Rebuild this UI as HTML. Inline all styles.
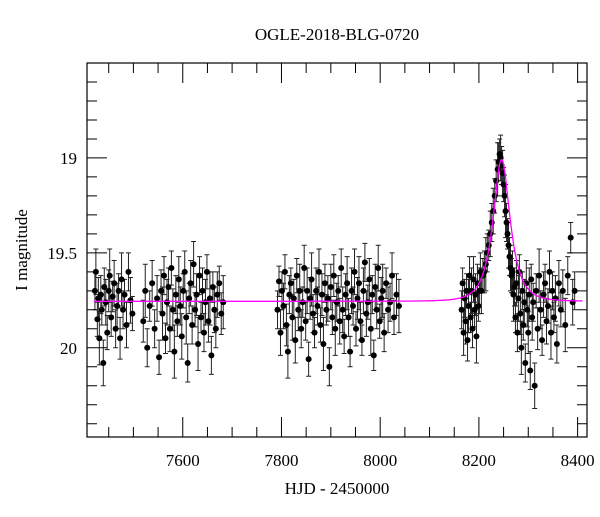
<!DOCTYPE html>
<html><head><meta charset="utf-8"><style>
body{margin:0;background:#fff;}
svg text{font-family:"Liberation Serif",serif;fill:#000;}
</style></head><body>
<svg id="chart" width="600" height="512" viewBox="0 0 600 512" xmlns="http://www.w3.org/2000/svg">
<text x="337" y="40" font-size="17" text-anchor="middle">OGLE-2018-BLG-0720</text>
<text x="337" y="494" font-size="17" text-anchor="middle">HJD - 2450000</text>
<text x="0" y="0" font-size="17" text-anchor="middle" transform="translate(27,250) rotate(-90)">I magnitude</text>
<g id="errs"></g><g id="pts"></g><g id="model"></g><g id="axes"></g>
</svg>
<script>
const xTicks=[7600,7800,8000,8200,8400];
const yTicks=[19,19.5,20];
const yTickLabels=["19","19.5","20"];
const t1=[7422,7424,7427,7429,7431,7434,7436,7439,7441,7444,7447,7450,7452,7455,7458,7461,7464,7467,7470,7473,7476,7479,7482,7486,7490,7494,7498,7520,7524,7528,7533,7538,7543,7548,7552,7556,7559,7562,7565,7568,7571,7574,7577,7580,7583,7586,7589,7592,7595,7598,7601,7604,7607,7610,7613,7616,7619,7622,7625,7628,7631,7634,7637,7640,7643,7646,7649,7652,7655,7658,7661,7664,7667,7670,7674,7678,7682];
const m1=[19.7,19.6,19.85,19.74,19.95,19.72,19.8,20.08,19.68,19.76,19.92,19.7,19.62,19.84,19.73,19.66,19.9,19.78,19.7,19.95,19.64,19.8,19.72,19.88,19.6,19.75,19.82,19.86,19.7,20.0,19.78,19.66,19.9,19.74,20.05,19.7,19.82,19.62,19.95,19.76,19.68,19.9,19.58,19.8,20.02,19.72,19.86,19.64,19.78,19.94,19.7,19.6,19.84,20.08,19.74,19.66,19.88,19.56,19.8,19.72,19.98,19.62,19.84,19.7,19.92,19.76,19.6,19.86,19.74,20.04,19.68,19.8,19.9,19.72,19.66,19.82,19.76];
const t2=[7792,7795,7798,7801,7804,7807,7810,7813,7816,7819,7822,7825,7828,7831,7834,7837,7840,7843,7846,7849,7852,7855,7858,7861,7864,7867,7870,7873,7876,7879,7882,7885,7888,7891,7894,7897,7900,7903,7906,7909,7912,7915,7918,7921,7924,7927,7930,7933,7936,7939,7942,7945,7948,7951,7954,7957,7960,7963,7966,7969,7972,7975,7978,7981,7984,7987,7990,7993,7996,7999,8002,8005,8008,8012,8016,8020,8024,8028,8033,8038];
const m2=[19.8,19.65,19.92,19.7,19.78,19.6,19.88,20.02,19.72,19.66,19.84,19.74,19.96,19.62,19.8,19.7,19.9,19.76,19.58,19.86,19.7,20.06,19.74,19.64,19.82,19.92,19.7,19.78,19.6,19.88,19.72,19.98,19.66,19.8,19.74,20.1,19.68,19.84,19.62,19.9,19.76,19.7,19.86,19.58,19.8,19.94,19.72,19.66,19.84,20.02,19.7,19.78,19.6,19.9,19.74,19.66,19.86,19.96,19.7,19.55,19.82,19.76,19.64,19.9,19.72,20.04,19.68,19.8,19.58,19.86,19.74,19.7,19.92,19.66,19.8,19.76,19.62,19.84,19.72,19.78];
const t3=[8165,8167,8169,8171,8173,8175,8177,8179,8181,8183,8185,8187,8189,8191,8193,8195,8197,8199,8201,8203,8205,8208,8211,8214,8217,8220,8223,8226,8229,8232,8235,8238,8240,8242,8244,8246,8248,8250,8252,8254,8256,8258,8260,8262,8264,8266,8268,8270,8272,8274,8276,8278,8280,8282,8284,8286,8288,8290,8292,8294,8296,8298,8300,8302,8304,8306,8308,8310,8313,8316,8319,8322,8325,8328,8331,8334,8337,8340,8343,8346,8349,8352,8355,8358,8362,8366,8370,8375,8380,8386,8390,8394];
const m3=[19.8,19.66,19.92,19.74,19.86,19.7,19.96,19.78,19.62,19.84,19.7,19.9,19.64,19.8,19.72,19.94,19.66,19.78,19.7,19.6,19.7,19.62,19.6,19.56,19.5,19.46,19.4,19.34,19.28,19.2,19.12,19.06,19.02,18.98,19.0,19.04,19.08,19.14,19.2,19.28,19.34,19.4,19.46,19.52,19.58,19.62,19.6,19.72,19.68,19.84,19.66,19.92,19.74,19.6,19.82,20.0,19.7,19.88,19.76,20.08,19.66,19.8,19.92,19.72,20.12,19.64,19.84,19.76,20.2,19.7,19.9,19.62,19.8,19.96,19.72,19.66,19.86,19.78,19.6,19.92,19.7,19.84,19.74,19.98,19.66,19.8,19.7,19.88,19.62,19.42,19.76,19.7];
const errVals=[0.1,0.12,0.09,0.11,0.14,0.1,0.08,0.12];
const model={t0:8246,u0:0.56,tE:28,base:19.755};
const X0=7406,X1=8419,Y0=18.5,Y1=20.47,L=87,R=587,T=63,B=437;
const xs=v=>L+(v-X0)/(X1-X0)*(R-L);
const ys=v=>T+(v-Y0)/(Y1-Y0)*(B-T);
const NS="http://www.w3.org/2000/svg";
function mk(tag,attrs,parent){const e=document.createElementNS(NS,tag);for(const k in attrs)e.setAttribute(k,attrs[k]);parent.appendChild(e);return e;}
const gE=document.getElementById('errs'),gP=document.getElementById('pts'),gM=document.getElementById('model'),gA=document.getElementById('axes');
let idx=0;
[[t1,m1],[t2,m2],[t3,m3]].forEach(([ts,ms],s)=>{
 ts.forEach((t,i)=>{
  const m=ms[i],e=errVals[idx++%errVals.length];
  const x=xs(t);
  const eb=mk('path',{d:`M${x},${ys(m-e)}V${ys(m+e)}M${x-2.5},${ys(m-e)}h5M${x-2.5},${ys(m+e)}h5`,stroke:'#222','stroke-width':1,fill:'none'},gE);
  
  
  const c=mk('circle',{cx:x,cy:ys(m),r:3,fill:'#000'},gP);
  
  
 });
});
let d='';
for(let t=7420;t<=8410;t+=1){
 const tau=(t-model.t0)/model.tE,u=Math.sqrt(model.u0*model.u0+tau*tau);
 const A=(u*u+2)/(u*Math.sqrt(u*u+4));
 const m=model.base-2.5*Math.log10(A);
 d+=(d?'L':'M')+xs(t).toFixed(1)+','+ys(m).toFixed(1);
}
const ml=mk('path',{d:d,stroke:'#ff00ff','stroke-width':1.3,fill:'none'},gM);


const fr=mk('rect',{x:L,y:T,width:R-L,height:B-T,fill:'none',stroke:'#000','stroke-width':1.2},gA);


let td='';
for(let v=7450;v<=8400;v+=50){const x=xs(v),big=v%200===0;const h=big?20:10;td+=`M${x},${B}v-${h}M${x},${T}v${h}`;}
for(let k=0;k<=19;k++){const v=18.5+k*0.1;const y=ys(v);if(y>B)break;const big=Math.abs(v*2-Math.round(v*2))<1e-6&&Math.abs(v-18.5)>1e-6;const h=big?20:10;td+=`M${L},${y}h${h}M${R},${y}h-${h}`;}
const tk=mk('path',{d:td,stroke:'#000','stroke-width':1},gA);


xTicks.forEach(v=>{const t=mk('text',{x:xs(v),y:466,'font-size':17,'text-anchor':'middle'},gA);t.textContent=v;
 
 });
yTicks.forEach((v,i)=>{const t=mk('text',{x:77,y:ys(v)+6,'font-size':17,'text-anchor':'end'},gA);t.textContent=yTickLabels[i];
 
 });
</script>
</body></html>
